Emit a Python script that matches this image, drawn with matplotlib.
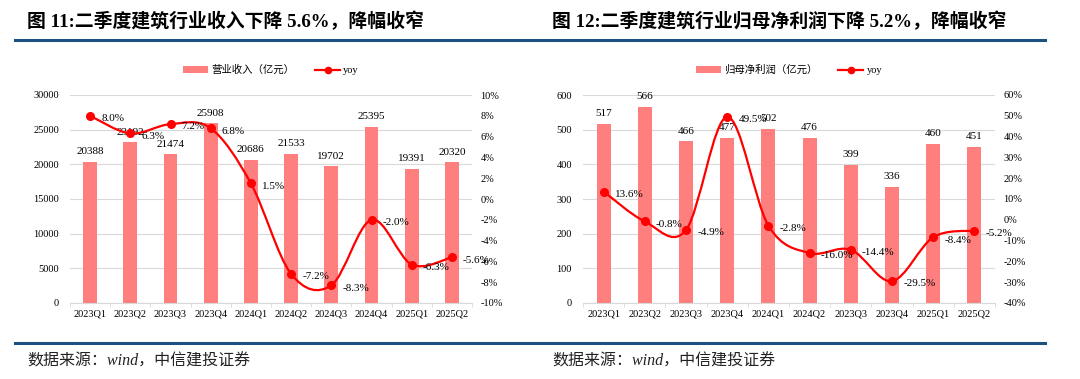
"""
Two combo charts: construction industry revenue / net profit (bars)
with yoy growth (smoothed red line) on a secondary axis.
"""

import numpy as np
import matplotlib.pyplot as plt
from matplotlib.path import Path
from matplotlib.patches import PathPatch, Patch
from matplotlib.lines import Line2D

plt.rcParams['font.family'] = ['Liberation Serif', 'Noto Sans CJK SC', 'DejaVu Sans']

# Data
quarters_left = ["2023Q1", "2023Q2", "2023Q3", "2023Q4", "2024Q1",
                 "2024Q2", "2024Q3", "2024Q4", "2025Q1", "2025Q2"]
revenue = [20388, 23192, 21474, 25908, 20686, 21533, 19702, 25395, 19391, 20320]
revenue_yoy = [8.0, 6.3, 7.2, 6.8, 1.5, -7.2, -8.3, -2.0, -6.3, -5.6]

# the source mislabels two quarters, kept as in the original
quarters_right = ["2023Q1", "2023Q2", "2023Q3", "2023Q4", "2024Q1",
                  "2024Q2", "2023Q3", "2023Q4", "2025Q1", "2025Q2"]
profit = [517, 566, 466, 477, 502, 476, 399, 336, 460, 451]
profit_yoy = [13.6, -0.8, -4.9, 49.5, -2.8, -16.0, -14.4, -29.5, -8.4, -5.2]

BAR_COLOR = "#FF7F7F"
LINE_COLOR = "#FF0000"
BLUE = "#1B5281"
GRID = "#D9D9D9"
FS = 7.5


def smooth_path(x, y):
    # Catmull-Rom style bezier, like Excel's smoothed line
    pts = np.column_stack([x, y]).astype(float)
    n = len(pts)
    verts = [pts[0]]
    codes = [Path.MOVETO]
    for i in range(n - 1):
        p0 = pts[i - 1] if i > 0 else pts[i]
        p1 = pts[i]
        p2 = pts[i + 1]
        p3 = pts[i + 2] if i + 2 < n else pts[i + 1]
        c1 = p1 + (p2 - p0) / 6.0
        c2 = p2 - (p3 - p1) / 6.0
        verts += [c1, c2, p2]
        codes += [Path.CURVE4] * 3
    return Path(verts, codes)


def combo(ax, cats, bars, yoy, ymax, ystep, rmin, rmax, rstep, bar_name):
    x = np.arange(len(cats))
    ax.bar(x, bars, width=0.34, color=BAR_COLOR, zorder=2)
    ax.set_xlim(-0.5, len(cats) - 0.5)
    ax.set_ylim(0, ymax)
    ax.set_yticks(np.arange(0, ymax + 1, ystep))
    ax.yaxis.grid(True, color=GRID, linewidth=0.8, zorder=0)
    ax.set_axisbelow(True)
    ax.set_xticks(x)
    ax.set_xticklabels(cats, fontsize=FS)
    ax.set_xticks(np.arange(-0.5, len(cats)), minor=True)
    ax.tick_params(axis="x", which="major", length=0, pad=5)
    ax.tick_params(axis="x", which="minor", length=3, color=GRID)
    ax.tick_params(axis="y", length=0, labelsize=FS, pad=8)
    for s in ["top", "left", "right"]:
        ax.spines[s].set_visible(False)
    ax.spines["bottom"].set_color(GRID)
    for xi, v in zip(x, bars):
        ax.annotate(f"{v}", (xi, v), xytext=(0, 4), textcoords="offset points",
                    ha="center", va="bottom", fontsize=FS + 0.5)

    ax2 = ax.twinx()
    ax2.set_ylim(rmin, rmax)
    ax2.set_yticks(np.arange(rmin, rmax + 0.01, rstep))
    ax2.set_yticklabels([f"{t:.0f}%" for t in np.arange(rmin, rmax + 0.01, rstep)])
    ax2.tick_params(axis="y", length=0, labelsize=FS, pad=6)
    for s in ["top", "left", "right", "bottom"]:
        ax2.spines[s].set_visible(False)
    ax2.add_patch(PathPatch(smooth_path(x, yoy), facecolor="none",
                            edgecolor=LINE_COLOR, linewidth=1.6, zorder=3))
    ax2.plot(x, yoy, linestyle="none", marker="o", markersize=5.5,
             color=LINE_COLOR, zorder=4)
    for xi, v in zip(x, yoy):
        ax2.annotate(f"{v:.1f}%", (xi, v), xytext=(8, -2), textcoords="offset points",
                     ha="left", va="center", fontsize=FS + 0.5, zorder=5)

    handles = [Patch(facecolor=BAR_COLOR, edgecolor="none"),
               Line2D([], [], color=LINE_COLOR, marker="o", markersize=4.5, linewidth=1.6)]
    ax.legend(handles, [bar_name, "yoy"], loc="center", bbox_to_anchor=(0.5, 1.12),
              ncol=2, frameon=False, fontsize=FS, handlelength=2.4,
              handleheight=0.6, columnspacing=2.0, handletextpad=0.3)
    return ax2


fig = plt.figure(figsize=(10.8, 3.79), dpi=100)
H = 379.0
W = 1080.0
axL = fig.add_axes([70 / W, (H - 303) / H, 402 / W, 208 / H])
axR = fig.add_axes([583 / W, (H - 303) / H, 412 / W, 208 / H])

combo(axL, quarters_left, revenue, revenue_yoy, 30000, 5000, -10, 10, 2, "营业收入（亿元）")
combo(axR, quarters_right, profit, profit_yoy, 600, 100, -40, 60, 10, "归母净利润（亿元）")

# titles, rules and source notes
fig.text(27 / W, 1 - 22 / H, "图 11:二季度建筑行业收入下降 5.6%，降幅收窄",
         fontsize=13.6, fontweight="bold", va="center", ha="left",
         family=["Liberation Serif", "Noto Sans CJK SC"])
fig.text(552 / W, 1 - 22 / H, "图 12:二季度建筑行业归母净利润下降 5.2%，降幅收窄",
         fontsize=13.6, fontweight="bold", va="center", ha="left",
         family=["Liberation Serif", "Noto Sans CJK SC"])
for y in [40, 343]:
    fig.add_artist(Line2D([15 / W, 1045 / W], [1 - y / H, 1 - y / H],
                          color=BLUE, linewidth=2.2, transform=fig.transFigure))
for xx in [27, 552]:
    fig.text(xx / W, 1 - 362 / H, "数据来源：wind，中信建投证券", fontsize=11.5,
             style="italic", va="center", ha="left", color="#222222",
             family=["Liberation Serif", "Noto Sans CJK SC"])

fig.savefig("out.png", dpi=100)
plt.close(fig)
